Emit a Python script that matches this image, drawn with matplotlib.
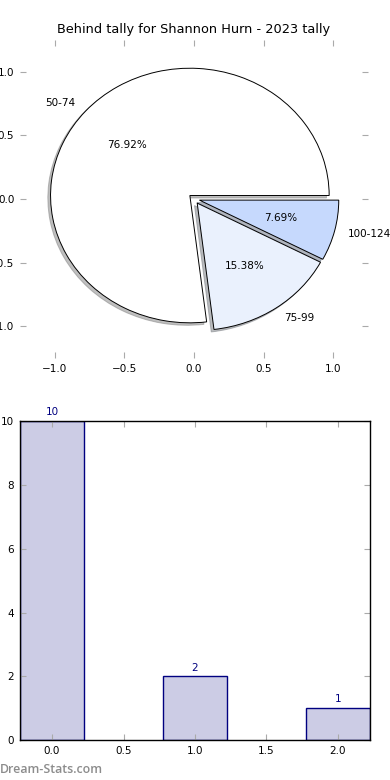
import matplotlib
matplotlib.use("Agg")
import matplotlib.pyplot as plt

labels = ["50-74", "75-99", "100-124"]
counts = [10, 2, 1]
pie_colors = ["#ffffff", "#eaf1fd", "#c6d9fd"]
explode = [0.04, 0.04, 0.04]
bar_x = [0, 1, 2]
title = "Behind tally for Shannon Hurn - 2023 tally"

fig = plt.figure(figsize=(3.9, 7.8), dpi=100)

ax1 = fig.add_axes([0.051, 0.541, 0.893, 0.408])
ax1.pie(counts, labels=labels, colors=pie_colors, explode=explode,
        autopct="%1.2f%%", shadow={"ox": -0.014, "oy": -0.014, "shade": 0.5},
        startangle=0,
        wedgeprops=dict(edgecolor="black", linewidth=0.7),
        textprops=dict(fontsize=7.5))
ax1.set_aspect("auto")
ax1.set_xlim(-1.25, 1.25)
ax1.set_ylim(-1.25, 1.25)
ax1.set_xticks([-1.0, -0.5, 0.0, 0.5, 1.0])
ax1.set_yticks([-1.0, -0.5, 0.0, 0.5, 1.0])
for s in ax1.spines.values():
    s.set_visible(False)
ax1.tick_params(direction="in", length=4, color="#aaaaaa", top=True, right=True,
                labelsize=7.5, pad=4)
ax1.set_title(title, fontsize=9.3, pad=5)

ax2 = fig.add_axes([0.051, 0.051, 0.898, 0.409])
bars = ax2.bar(bar_x, counts, width=0.45, color=(0, 0, 0.5, 0.2),
               edgecolor="navy", linewidth=1.0)
for x, v in zip(bar_x, counts):
    ax2.text(x, v + 0.12, str(v), ha="center", va="bottom", color="navy", fontsize=7.5)
ax2.set_xlim(-0.225, 2.225)
ax2.set_ylim(0, 10)
ax2.tick_params(direction="in", length=4, color="#aaaaaa", top=True, right=True,
                labelsize=7.5, pad=4)
for s in ax2.spines.values():
    s.set_linewidth(1.0)

fig.text(0.0, 0.005, "Dream-Stats.com", color="#8c8c8c", fontsize=8.9,
         family="Open Sans", fontweight="semibold", ha="left", va="bottom")

fig.savefig("out.png", dpi=100)
